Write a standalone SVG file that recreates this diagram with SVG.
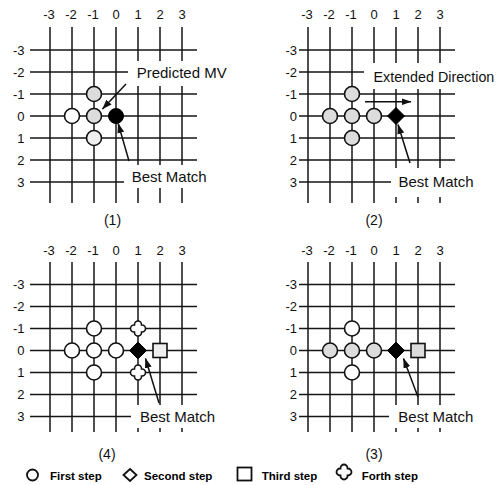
<svg xmlns="http://www.w3.org/2000/svg" width="504" height="485" viewBox="0 0 504 485">
<style>
.grid{fill:none;stroke:#161616;stroke-width:1.5}
.mask{fill:#fff;stroke:none}
.ax{font-family:"Liberation Sans",Arial,sans-serif;font-size:13px;fill:#111}
.axt{text-anchor:middle}
.axl{text-anchor:end}
.lbl{font-family:"Liberation Sans",Arial,sans-serif;font-size:15px;fill:#111}
.cap{font-family:"Liberation Sans",Arial,sans-serif;font-size:14px;fill:#111;text-anchor:middle}
.leg{font-family:"Liberation Sans",Arial,sans-serif;font-size:11.5px;font-weight:bold;fill:#000}
.c{stroke:#111;stroke-width:1.6}
.w{fill:#fff}
.g{fill:#dcdcdc}
.l{fill:#efefef}
.blk{fill:#000;stroke:#000;stroke-width:1}
.arr{fill:none;stroke:#111;stroke-width:1.5;marker-end:url(#ah)}
</style>
<defs>
<marker id="ah" markerUnits="userSpaceOnUse" markerWidth="10" markerHeight="7" refX="9.5" refY="3.5" orient="auto">
<path d="M0,0L10,3.5L0,7z" fill="#111"/>
</marker>
<path id="plus" d="M-3.5,-3.5V-4A3.5,3.5 0 0 1 3.5,-4V-3.5H4A3.5,3.5 0 0 1 4,3.5H3.5V4A3.5,3.5 0 0 1 -3.5,4V3.5H-4A3.5,3.5 0 0 1 -4,-3.5Z"/>
<path id="dia" d="M0,-8.5L8.5,0L0,8.5L-8.5,0Z"/>
</defs>

<!-- Panel 1 -->
<g id="panel1">
<path class="grid" d="M50,27V203M72,27V203M94,27V203M116,27V203M138,27V203M160,27V203M182,27V203M30,50H197M30,72H197M30,94H197M30,116H197M30,138H197M30,160H197M30,182H197"/>
<rect class="mask" x="128" y="61" width="104" height="25"/>
<rect class="mask" x="124" y="165" width="88" height="23"/>
<g class="ax axt"><text x="49" y="19">-3</text><text x="71" y="19">-2</text><text x="93" y="19">-1</text><text x="116" y="19">0</text><text x="138" y="19">1</text><text x="160" y="19">2</text><text x="182" y="19">3</text></g>
<g class="ax axl"><text x="24.5" y="54.5">-3</text><text x="24.5" y="76.5">-2</text><text x="24.5" y="98.5">-1</text><text x="24.5" y="120.5">0</text><text x="24.5" y="142.5">1</text><text x="24.5" y="164.5">2</text><text x="24.5" y="186.5">3</text></g>
<g id="p1-c1"><circle class="c g" cx="94" cy="94" r="7.5"/></g>
<g id="p1-c2"><circle class="c w" cx="72" cy="116" r="7.5"/></g>
<g id="p1-c3"><circle class="c g" cx="94" cy="116" r="7.5"/></g>
<g id="p1-c4"><circle class="c l" cx="94" cy="138" r="7.5"/></g>
<g id="p1-best"><circle class="blk" cx="116" cy="116" r="7.5"/></g>
<g id="p1-pred-label"><text class="lbl" x="136.7" y="77.7">Predicted MV</text></g>
<g id="p1-best-label"><text class="lbl" x="131.7" y="181.7">Best Match</text></g>
<text class="cap" x="112.5" y="224.5">(1)</text>
</g>

<!-- Panel 2 -->
<g id="panel2">
<path class="grid" d="M308,27V203M330,27V203M352,27V203M374,27V203M396,27V203M418,27V203M440,27V203M299,50H455M299,72H455M299,94H455M299,116H455M299,138H455M299,160H455M299,182H455"/>
<rect class="mask" x="364" y="63" width="140" height="26"/>
<rect class="mask" x="391" y="168" width="94" height="29"/>
<g class="ax axt"><text x="307" y="19">-3</text><text x="329" y="19">-2</text><text x="351" y="19">-1</text><text x="374" y="19">0</text><text x="396" y="19">1</text><text x="418" y="19">2</text><text x="440" y="19">3</text></g>
<g class="ax axl"><text x="297" y="54.5">-3</text><text x="297" y="76.5">-2</text><text x="297" y="98.5">-1</text><text x="297" y="120.5">0</text><text x="297" y="142.5">1</text><text x="297" y="164.5">2</text><text x="297" y="186.5">3</text></g>
<g id="p2-c1"><circle class="c g" cx="352" cy="94" r="7.5"/></g>
<g id="p2-c2"><circle class="c g" cx="330" cy="116" r="7.5"/></g>
<g id="p2-c3"><circle class="c g" cx="352" cy="116" r="7.5"/></g>
<g id="p2-c4"><circle class="c g" cx="374" cy="116" r="7.5"/></g>
<g id="p2-c5"><circle class="c g" cx="352" cy="138" r="7.5"/></g>
<g id="p2-best"><use href="#dia" class="blk" x="396" y="116"/></g>
<g id="p2-ext-label"><text class="lbl" x="373.5" y="81.7" style="font-size:14.3px">Extended Direction</text></g>
<g id="p2-best-label"><text class="lbl" x="398.5" y="187">Best Match</text></g>
<text class="cap" x="374" y="224.5">(2)</text>
</g>

<!-- Panel 4 -->
<g id="panel4">
<path class="grid" d="M50,262V432M72,262V432M94,262V432M116,262V432M138,262V432M160,262V432M182,262V432M30,284.5H197M30,306.5H197M30,328.5H197M30,350.5H197M30,372.5H197M30,394.5H197M30,416.5H197"/>
<rect class="mask" x="131" y="405" width="91" height="23"/>
<g class="ax axt"><text x="49" y="254.5">-3</text><text x="71" y="254.5">-2</text><text x="93" y="254.5">-1</text><text x="116" y="254.5">0</text><text x="138" y="254.5">1</text><text x="160" y="254.5">2</text><text x="182" y="254.5">3</text></g>
<g class="ax axl"><text x="24.5" y="289">-3</text><text x="24.5" y="311">-2</text><text x="24.5" y="333">-1</text><text x="24.5" y="355">0</text><text x="24.5" y="377">1</text><text x="24.5" y="399">2</text><text x="24.5" y="421">3</text></g>
<g id="p4-c1"><circle class="c w" cx="94" cy="328.5" r="7.5"/></g>
<g id="p4-c2"><circle class="c w" cx="72" cy="350.5" r="7.5"/></g>
<g id="p4-c3"><circle class="c w" cx="94" cy="350.5" r="7.5"/></g>
<g id="p4-c4"><circle class="c w" cx="116" cy="350.5" r="7.5"/></g>
<g id="p4-c5"><circle class="c w" cx="94" cy="372.5" r="7.5"/></g>
<g id="p4-x1"><use href="#plus" class="c w" x="138" y="328.5"/></g>
<g id="p4-x2"><use href="#plus" class="c w" x="138" y="372.5"/></g>
<g id="p4-best"><use href="#dia" class="blk" x="138" y="350.5"/></g>
<g id="p4-sq"><rect class="c l" x="153" y="343.5" width="14" height="14"/></g>
<g id="p4-best-label"><text class="lbl" x="140" y="421.5">Best Match</text></g>
<text class="cap" x="107" y="458.5">(4)</text>
</g>

<!-- Panel 3 -->
<g id="panel3">
<path class="grid" d="M308,262V432M330,262V432M352,262V432M374,262V432M396,262V432M418,262V432M440,262V432M299,284.5H455M299,306.5H455M299,328.5H455M299,350.5H455M299,372.5H455M299,394.5H455M299,416.5H455"/>
<rect class="mask" x="389" y="405" width="91" height="23"/>
<g class="ax axt"><text x="307" y="254.5">-3</text><text x="329" y="254.5">-2</text><text x="351" y="254.5">-1</text><text x="374" y="254.5">0</text><text x="396" y="254.5">1</text><text x="418" y="254.5">2</text><text x="440" y="254.5">3</text></g>
<g class="ax axl"><text x="297" y="289">-3</text><text x="297" y="311">-2</text><text x="297" y="333">-1</text><text x="297" y="355">0</text><text x="297" y="377">1</text><text x="297" y="399">2</text><text x="297" y="421">3</text></g>
<g id="p3-c1"><circle class="c w" cx="352" cy="328.5" r="7.5"/></g>
<g id="p3-c2"><circle class="c g" cx="330" cy="350.5" r="7.5"/></g>
<g id="p3-c3"><circle class="c g" cx="352" cy="350.5" r="7.5"/></g>
<g id="p3-c4"><circle class="c g" cx="374" cy="350.5" r="7.5"/></g>
<g id="p3-c5"><circle class="c w" cx="352" cy="372.5" r="7.5"/></g>
<g id="p3-best"><use href="#dia" class="blk" x="396" y="350.5"/></g>
<g id="p3-sq"><rect class="c g" x="411" y="343.5" width="14" height="14"/></g>
<g id="p3-best-label"><text class="lbl" x="398.3" y="421.5">Best Match</text></g>
<text class="cap" x="374" y="458.5">(3)</text>
</g>

<!-- Connectors -->
<g id="connectors">
<path class="arr" d="M126,84L102.5,109"/>
<path class="arr" d="M129,161L118.2,123.5"/>
<path class="arr" d="M365,101.7H411"/>
<path class="arr" d="M410,163L398,124.5"/>
<path class="arr" d="M159,403L145.5,358.5"/>
<path class="arr" d="M418,397L403.5,358.5"/>
</g>

<!-- Legend -->
<g id="legend">
<g id="leg-first"><circle cx="32.5" cy="475" r="5.5" fill="#fff" stroke="#111" stroke-width="1.8"/><text class="leg" x="50" y="479.5">First step</text></g>
<g id="leg-second"><path d="M130,469L136.5,475L130,481L123.5,475Z" fill="#fff" stroke="#111" stroke-width="1.8"/><text class="leg" x="144" y="479.5">Second step</text></g>
<g id="leg-third"><rect x="237.5" y="467.5" width="14" height="13" fill="#fff" stroke="#111" stroke-width="1.8"/><text class="leg" x="261.7" y="479.5">Third step</text></g>
<g id="leg-forth"><use href="#plus" x="344" y="472" fill="#fff" stroke="#111" stroke-width="1.8"/><text class="leg" x="361.7" y="479.5">Forth step</text></g>
</g>
</svg>
